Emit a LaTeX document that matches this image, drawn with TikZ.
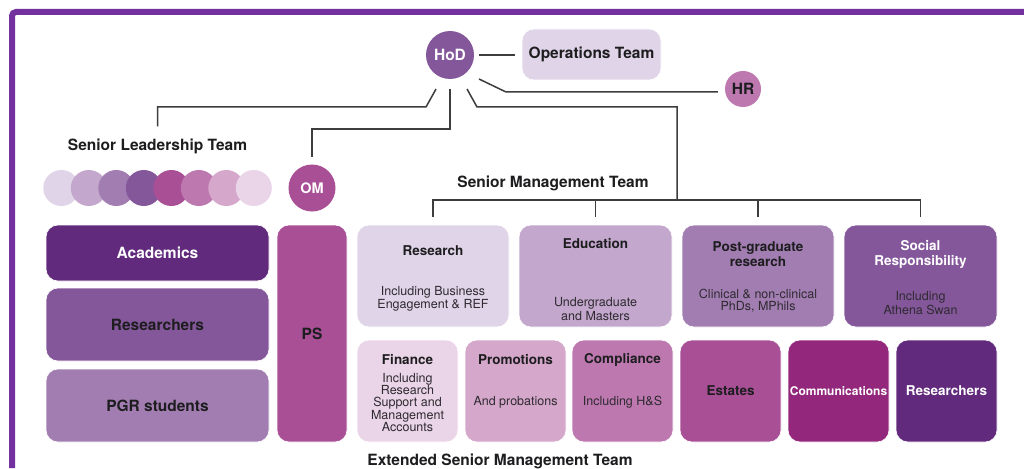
\documentclass[tikz,border=0pt]{standalone}
\usepackage{fontspec}
\setmainfont{TeX Gyre Heros}
\usetikzlibrary{calc}
\definecolor{frame}{HTML}{7331A0}
\definecolor{linec}{HTML}{3D3D3D}
\definecolor{dk}{HTML}{1D1D1F}
\definecolor{sb}{HTML}{2E2A30}
\definecolor{cA}{HTML}{E0D4E8}
\definecolor{cB}{HTML}{C3A7CD}
\definecolor{cC}{HTML}{A27DB2}
\definecolor{cD}{HTML}{84579B}
\definecolor{cE}{HTML}{A84F96}
\definecolor{cF}{HTML}{BD78B0}
\definecolor{cG}{HTML}{D5A7CB}
\definecolor{cH}{HTML}{EAD4E7}
\definecolor{cAcad}{HTML}{622A7D}
\definecolor{cComm}{HTML}{92277C}
\begin{document}
\begin{tikzpicture}[x=1pt,y=-1pt,
  box/.style={rectangle, rounded corners=12pt, inner sep=0pt, draw=white, line width=0.6pt},
  conn/.style={draw=linec, line width=1.5pt},
  hd/.style={font=\bfseries\fontsize{15.5}{17}\selectfont, text=dk, inner sep=0pt, align=center},
  tt/.style={font=\bfseries\fontsize{13.5}{15}\selectfont, text=dk, inner sep=0pt, align=center},
  sub/.style={font=\fontsize{12.5}{13}\selectfont, text=sb, inner sep=0pt, align=center},
  circ/.style={circle, inner sep=0pt, font=\bfseries\fontsize{15.5}{17}\selectfont}]
\useasboundingbox (0,0) rectangle (1024,468);
\fill[white] (0,0) rectangle (1024,468);
% frame
\draw[frame, line width=6pt, rounded corners=4pt] (12,468) -- (12,12) -- (1024,12);

% top
\node[circ, fill=cD, minimum size=48pt, text=white] (hod) at (450,55) {HoD};
\node[box, fill=cA, minimum width=139pt, minimum height=51pt, hd] (ops) at (591.5,54.5) {Operations Team};
\node[circ, fill=cF, minimum size=36pt, text=dk] (hr) at (743,89) {HR};

% labels
\node[hd] (slt) at (157.5,146) {Senior Leadership Team};
\node[hd] (smt) at (553,183) {Senior Management Team};
\node[hd] (esmt) at (500,461) {Extended Senior Management Team};

% SLT circles
\foreach \i/\col in {1/cA,2/cB,3/cC,4/cD,5/cE,6/cF,7/cG,8/cH}{
  \node[circle, inner sep=0pt, fill=\col, minimum size=36pt] (slc\i) at ({61.3+27.5*(\i-1)},188) {};
}
\node[circ, fill=cE, minimum size=47pt, text=white, font=\bfseries\fontsize{14.5}{16}\selectfont] (om) at (312,188) {OM};

% left boxes
\node[box, fill=cAcad, minimum width=223pt, minimum height=56pt, hd, text=white] (acad) at (157.5,253) {Academics};
\node[box, fill=cD, minimum width=223pt, minimum height=73pt, hd] (resl) at (157.5,324.5) {Researchers};
\node[box, fill=cC, minimum width=223pt, minimum height=73pt, hd] (pgr) at (157.5,405.5) {PGR students};
\node[box, fill=cE, minimum width=70pt, minimum height=217pt, hd] (ps) at (312,333.5) {PS};

% SMT boxes
\node[box, fill=cA, minimum width=152pt, minimum height=102pt] (res) at (433,276) {};
\node[box, fill=cB, minimum width=153pt, minimum height=102pt] (edu) at (595.5,276) {};
\node[box, fill=cC, minimum width=152pt, minimum height=102pt] (pg) at (758,276) {};
\node[box, fill=cD, minimum width=153pt, minimum height=102pt] (soc) at (920.5,276) {};

\node[tt] (resT) at (433,251) {Research};
\node[sub] (resS) at (433,298.5) {Including Business\\Engagement \& REF};
\node[tt] (eduT) at (595.5,243.3) {Education};
\node[sub, font=\fontsize{12.5}{14.3}\selectfont] (eduS) at (595.5,309) {Undergraduate\\and Masters};
\node[tt, font=\bfseries\fontsize{13.5}{15}\selectfont] (pgT) at (758,254.2) {Post-graduate\\research};
\node[sub, font=\fontsize{12.5}{12}\selectfont] (pgS) at (758,301) {Clinical \& non-clinical\\PhDs, MPhils};
\node[tt, text=white] (socT) at (920.5,254.3) {Social\\Responsibility};
\node[sub, font=\fontsize{12.5}{14}\selectfont] (socS) at (920.5,303) {Including\\Athena Swan};

% extended boxes
\node[box, fill=cH, minimum width=101pt, minimum height=102pt] (fin) at (407.5,391) {};
\node[box, fill=cG, minimum width=101pt, minimum height=102pt] (pro) at (515.5,391) {};
\node[box, fill=cF, minimum width=101pt, minimum height=102pt] (com) at (622.5,391) {};
\node[box, fill=cE, minimum width=101pt, minimum height=102pt, tt] (est) at (730.5,391) {Estates};
\node[box, fill=cComm, minimum width=101pt, minimum height=102pt, tt, text=white, font=\bfseries\fontsize{12}{14}\selectfont] (comm) at (838.5,391) {Communications};
\node[box, fill=cAcad, minimum width=101pt, minimum height=102pt, tt, text=white] (res2) at (946.5,391) {Researchers};

\node[tt] (finT) at (407.5,360) {Finance};
\node[sub, font=\fontsize{12.5}{12.3}\selectfont] (finS) at (407.5,402.5) {Including\\Research\\Support and\\Management\\Accounts};
\node[tt] (proT) at (515.5,360) {Promotions};
\node[sub] (proS) at (515.5,402) {And probations};
\node[tt] (comT) at (622.5,360) {Compliance};
\node[sub] (comS) at (622.5,402) {Including H\&S};

% connectors
\coordinate (smtbus) at (677,200);
\draw[conn] ([xshift=5pt]hod.east) -- ([xshift=-7pt]hod.east -| ops.west);
\draw[conn] ($(hod.center)+(29,24)$) -- ($(hod.center)+(56,37)$) -- ($(hr.west)+(-7,3)$);
\draw[conn] ($(hod.center)+(17,34)$) -- ($(hod.center)+(27,52)$) -| (smtbus);
\draw[conn] ($(hod.center)+(-14,34)$) -- ($(hod.center)+(-24,52)$) -| ([yshift=12pt]slt.north);
\draw[conn] ($(hod.center)+(0,34)$) -- ($(hod.center)+(0,74)$) -| ([yshift=7pt]om.north);
\draw[conn] ([yshift=8pt]res.north) -- (res.north |- smtbus) -- (soc.north |- smtbus) -- ([yshift=8pt]soc.north);
\draw[conn] (edu.north |- smtbus) -- ([yshift=8pt]edu.north);
\draw[conn] (pg.north |- smtbus) -- ([yshift=8pt]pg.north);
\end{tikzpicture}
\end{document}
